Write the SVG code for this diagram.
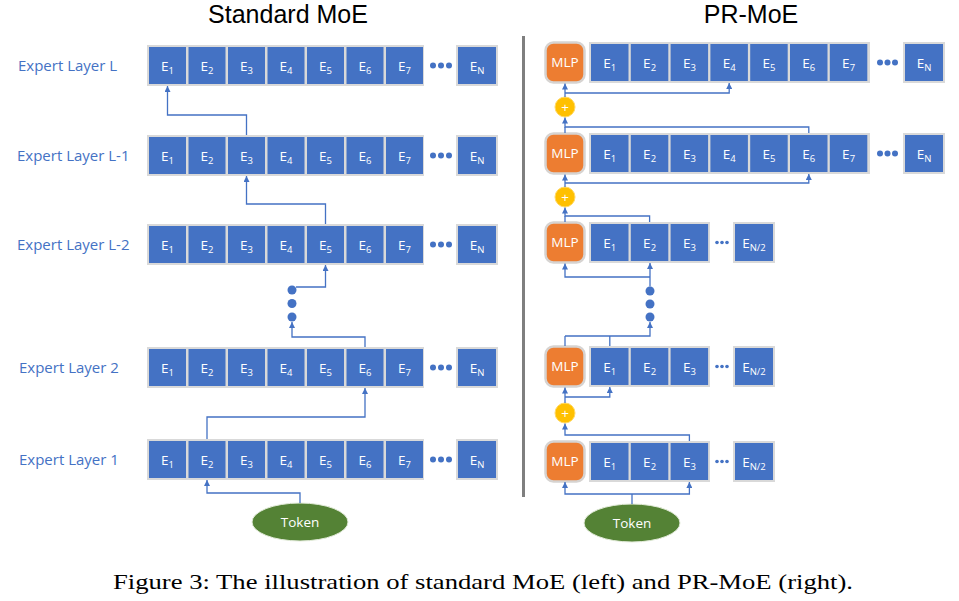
<svg xmlns="http://www.w3.org/2000/svg" width="959" height="601" viewBox="0 0 959 601">
<defs>
<style>
.band{fill:#D9D9D9}
.box{fill:#4472C4}
.et{fill:#fff;font-family:"Open Sans","Liberation Sans",sans-serif;font-size:13.5px;text-anchor:middle}
.sub{font-size:9.5px}
.lbl{fill:#4472C4;font-family:"Open Sans","Liberation Sans",sans-serif;font-size:15px}
.title{fill:#000;font-family:"Liberation Sans","Open Sans",sans-serif;font-size:25px;text-anchor:middle}
.dot{fill:#4472C4}
.mlp{fill:#ED7D31;stroke:#D6D3D1;stroke-width:2.5}
.plus{fill:#FFC000;stroke:#FFD966;stroke-width:1}
.tok{fill:#548235;stroke:#E2EBD9;stroke-width:1}
.conn{fill:none;stroke:#4472C4;stroke-width:1.3}
</style>
<marker id="ah" viewBox="0 0 6 6" refX="6" refY="3" markerWidth="6" markerHeight="6" markerUnits="userSpaceOnUse" orient="auto">
<path d="M0,0 L6,3 L0,6 z" fill="#4472C4"/>
</marker>
</defs>
<rect width="959" height="601" fill="#fff"/>

<!-- titles -->
<text class="title" x="288" y="23">Standard MoE</text>
<text class="title" x="751" y="23">PR-MoE</text>
<rect x="522" y="36" width="3" height="461" fill="#7F7F7F"/>

<!-- ========== Standard MoE ========== -->
<g id="std-layer-L">
<text class="lbl" x="18" y="71">Expert Layer L</text>
<rect class="band" x="147" y="45" width="277" height="41"/>
<rect class="box" x="149" y="47" width="37" height="37"/><text class="et" x="167.5" y="70.5">E<tspan class="sub" dy="3">1</tspan></text>
<rect class="box" x="188.5" y="47" width="37" height="37"/><text class="et" x="207" y="70.5">E<tspan class="sub" dy="3">2</tspan></text>
<rect class="box" x="228" y="47" width="37" height="37"/><text class="et" x="246.5" y="70.5">E<tspan class="sub" dy="3">3</tspan></text>
<rect class="box" x="267.5" y="47" width="37" height="37"/><text class="et" x="286" y="70.5">E<tspan class="sub" dy="3">4</tspan></text>
<rect class="box" x="307" y="47" width="37" height="37"/><text class="et" x="325.5" y="70.5">E<tspan class="sub" dy="3">5</tspan></text>
<rect class="box" x="346.5" y="47" width="37" height="37"/><text class="et" x="365" y="70.5">E<tspan class="sub" dy="3">6</tspan></text>
<rect class="box" x="386" y="47" width="37" height="37"/><text class="et" x="404.5" y="70.5">E<tspan class="sub" dy="3">7</tspan></text>
<circle class="dot" cx="433" cy="65.5" r="3"/><circle class="dot" cx="441" cy="65.5" r="3"/><circle class="dot" cx="449" cy="65.5" r="3"/>
<rect class="band" x="456" y="45" width="42" height="41"/>
<rect class="box" x="458" y="47" width="38" height="37"/><text class="et" x="477" y="70.5">E<tspan class="sub" dy="3">N</tspan></text>
</g>

<g id="std-layer-L-1">
<text class="lbl" x="17" y="161">Expert Layer L-1</text>
<rect class="band" x="147" y="135" width="277" height="41"/>
<rect class="box" x="149" y="137" width="37" height="37"/><text class="et" x="167.5" y="160.5">E<tspan class="sub" dy="3">1</tspan></text>
<rect class="box" x="188.5" y="137" width="37" height="37"/><text class="et" x="207" y="160.5">E<tspan class="sub" dy="3">2</tspan></text>
<rect class="box" x="228" y="137" width="37" height="37"/><text class="et" x="246.5" y="160.5">E<tspan class="sub" dy="3">3</tspan></text>
<rect class="box" x="267.5" y="137" width="37" height="37"/><text class="et" x="286" y="160.5">E<tspan class="sub" dy="3">4</tspan></text>
<rect class="box" x="307" y="137" width="37" height="37"/><text class="et" x="325.5" y="160.5">E<tspan class="sub" dy="3">5</tspan></text>
<rect class="box" x="346.5" y="137" width="37" height="37"/><text class="et" x="365" y="160.5">E<tspan class="sub" dy="3">6</tspan></text>
<rect class="box" x="386" y="137" width="37" height="37"/><text class="et" x="404.5" y="160.5">E<tspan class="sub" dy="3">7</tspan></text>
<circle class="dot" cx="433" cy="155.5" r="3"/><circle class="dot" cx="441" cy="155.5" r="3"/><circle class="dot" cx="449" cy="155.5" r="3"/>
<rect class="band" x="456" y="135" width="42" height="41"/>
<rect class="box" x="458" y="137" width="38" height="37"/><text class="et" x="477" y="160.5">E<tspan class="sub" dy="3">N</tspan></text>
</g>

<g id="std-layer-L-2">
<text class="lbl" x="17" y="250">Expert Layer L-2</text>
<rect class="band" x="147" y="224" width="277" height="41"/>
<rect class="box" x="149" y="226" width="37" height="37"/><text class="et" x="167.5" y="249.5">E<tspan class="sub" dy="3">1</tspan></text>
<rect class="box" x="188.5" y="226" width="37" height="37"/><text class="et" x="207" y="249.5">E<tspan class="sub" dy="3">2</tspan></text>
<rect class="box" x="228" y="226" width="37" height="37"/><text class="et" x="246.5" y="249.5">E<tspan class="sub" dy="3">3</tspan></text>
<rect class="box" x="267.5" y="226" width="37" height="37"/><text class="et" x="286" y="249.5">E<tspan class="sub" dy="3">4</tspan></text>
<rect class="box" x="307" y="226" width="37" height="37"/><text class="et" x="325.5" y="249.5">E<tspan class="sub" dy="3">5</tspan></text>
<rect class="box" x="346.5" y="226" width="37" height="37"/><text class="et" x="365" y="249.5">E<tspan class="sub" dy="3">6</tspan></text>
<rect class="box" x="386" y="226" width="37" height="37"/><text class="et" x="404.5" y="249.5">E<tspan class="sub" dy="3">7</tspan></text>
<circle class="dot" cx="433" cy="244.5" r="3"/><circle class="dot" cx="441" cy="244.5" r="3"/><circle class="dot" cx="449" cy="244.5" r="3"/>
<rect class="band" x="456" y="224" width="42" height="41"/>
<rect class="box" x="458" y="226" width="38" height="37"/><text class="et" x="477" y="249.5">E<tspan class="sub" dy="3">N</tspan></text>
</g>

<g id="std-layer-2">
<text class="lbl" x="19" y="373">Expert Layer 2</text>
<rect class="band" x="147" y="347" width="277" height="41"/>
<rect class="box" x="149" y="349" width="37" height="37"/><text class="et" x="167.5" y="372.5">E<tspan class="sub" dy="3">1</tspan></text>
<rect class="box" x="188.5" y="349" width="37" height="37"/><text class="et" x="207" y="372.5">E<tspan class="sub" dy="3">2</tspan></text>
<rect class="box" x="228" y="349" width="37" height="37"/><text class="et" x="246.5" y="372.5">E<tspan class="sub" dy="3">3</tspan></text>
<rect class="box" x="267.5" y="349" width="37" height="37"/><text class="et" x="286" y="372.5">E<tspan class="sub" dy="3">4</tspan></text>
<rect class="box" x="307" y="349" width="37" height="37"/><text class="et" x="325.5" y="372.5">E<tspan class="sub" dy="3">5</tspan></text>
<rect class="box" x="346.5" y="349" width="37" height="37"/><text class="et" x="365" y="372.5">E<tspan class="sub" dy="3">6</tspan></text>
<rect class="box" x="386" y="349" width="37" height="37"/><text class="et" x="404.5" y="372.5">E<tspan class="sub" dy="3">7</tspan></text>
<circle class="dot" cx="433" cy="367.5" r="3"/><circle class="dot" cx="441" cy="367.5" r="3"/><circle class="dot" cx="449" cy="367.5" r="3"/>
<rect class="band" x="456" y="347" width="42" height="41"/>
<rect class="box" x="458" y="349" width="38" height="37"/><text class="et" x="477" y="372.5">E<tspan class="sub" dy="3">N</tspan></text>
</g>

<g id="std-layer-1">
<text class="lbl" x="19" y="465">Expert Layer 1</text>
<rect class="band" x="147" y="439" width="277" height="41"/>
<rect class="box" x="149" y="441" width="37" height="37"/><text class="et" x="167.5" y="464.5">E<tspan class="sub" dy="3">1</tspan></text>
<rect class="box" x="188.5" y="441" width="37" height="37"/><text class="et" x="207" y="464.5">E<tspan class="sub" dy="3">2</tspan></text>
<rect class="box" x="228" y="441" width="37" height="37"/><text class="et" x="246.5" y="464.5">E<tspan class="sub" dy="3">3</tspan></text>
<rect class="box" x="267.5" y="441" width="37" height="37"/><text class="et" x="286" y="464.5">E<tspan class="sub" dy="3">4</tspan></text>
<rect class="box" x="307" y="441" width="37" height="37"/><text class="et" x="325.5" y="464.5">E<tspan class="sub" dy="3">5</tspan></text>
<rect class="box" x="346.5" y="441" width="37" height="37"/><text class="et" x="365" y="464.5">E<tspan class="sub" dy="3">6</tspan></text>
<rect class="box" x="386" y="441" width="37" height="37"/><text class="et" x="404.5" y="464.5">E<tspan class="sub" dy="3">7</tspan></text>
<circle class="dot" cx="433" cy="459.5" r="3"/><circle class="dot" cx="441" cy="459.5" r="3"/><circle class="dot" cx="449" cy="459.5" r="3"/>
<rect class="band" x="456" y="439" width="42" height="41"/>
<rect class="box" x="458" y="441" width="38" height="37"/><text class="et" x="477" y="464.5">E<tspan class="sub" dy="3">N</tspan></text>
</g>

<g id="std-token">
<ellipse class="tok" cx="300" cy="522" rx="48" ry="19"/>
<text class="et" x="300" y="527" font-size="14">Token</text>
</g>

<g id="std-ellipsis">
<circle class="dot" cx="292" cy="290" r="4.5"/><circle class="dot" cx="292" cy="303.5" r="4.5"/><circle class="dot" cx="292" cy="317" r="4.5"/>
</g>

<!-- ========== PR-MoE ========== -->
<g id="pr-layer-L">
<rect class="mlp" x="545.5" y="42.5" width="39" height="40" rx="8"/><text class="et" x="565" y="67">MLP</text>
<rect class="band" x="589" y="42" width="281" height="41"/>
<rect class="box" x="591" y="44" width="37.5" height="37"/><text class="et" x="609.8" y="67.5">E<tspan class="sub" dy="3">1</tspan></text>
<rect class="box" x="630.8" y="44" width="37.5" height="37"/><text class="et" x="649.6" y="67.5">E<tspan class="sub" dy="3">2</tspan></text>
<rect class="box" x="670.6" y="44" width="37.5" height="37"/><text class="et" x="689.4" y="67.5">E<tspan class="sub" dy="3">3</tspan></text>
<rect class="box" x="710.4" y="44" width="37.5" height="37"/><text class="et" x="729.2" y="67.5">E<tspan class="sub" dy="3">4</tspan></text>
<rect class="box" x="750.2" y="44" width="37.5" height="37"/><text class="et" x="769" y="67.5">E<tspan class="sub" dy="3">5</tspan></text>
<rect class="box" x="790" y="44" width="37.5" height="37"/><text class="et" x="808.8" y="67.5">E<tspan class="sub" dy="3">6</tspan></text>
<rect class="box" x="829.8" y="44" width="37.5" height="37"/><text class="et" x="848.6" y="67.5">E<tspan class="sub" dy="3">7</tspan></text>
<circle class="dot" cx="880" cy="62.5" r="3"/><circle class="dot" cx="887.5" cy="62.5" r="3"/><circle class="dot" cx="895" cy="62.5" r="3"/>
<rect class="band" x="903" y="42" width="42" height="41"/>
<rect class="box" x="905" y="44" width="38" height="37"/><text class="et" x="924" y="67.5">E<tspan class="sub" dy="3">N</tspan></text>
</g>

<g id="pr-layer-L-1">
<rect class="mlp" x="545.5" y="133.5" width="39" height="40" rx="8"/><text class="et" x="565" y="158">MLP</text>
<rect class="band" x="589" y="133" width="281" height="41"/>
<rect class="box" x="591" y="135" width="37.5" height="37"/><text class="et" x="609.8" y="158.5">E<tspan class="sub" dy="3">1</tspan></text>
<rect class="box" x="630.8" y="135" width="37.5" height="37"/><text class="et" x="649.6" y="158.5">E<tspan class="sub" dy="3">2</tspan></text>
<rect class="box" x="670.6" y="135" width="37.5" height="37"/><text class="et" x="689.4" y="158.5">E<tspan class="sub" dy="3">3</tspan></text>
<rect class="box" x="710.4" y="135" width="37.5" height="37"/><text class="et" x="729.2" y="158.5">E<tspan class="sub" dy="3">4</tspan></text>
<rect class="box" x="750.2" y="135" width="37.5" height="37"/><text class="et" x="769" y="158.5">E<tspan class="sub" dy="3">5</tspan></text>
<rect class="box" x="790" y="135" width="37.5" height="37"/><text class="et" x="808.8" y="158.5">E<tspan class="sub" dy="3">6</tspan></text>
<rect class="box" x="829.8" y="135" width="37.5" height="37"/><text class="et" x="848.6" y="158.5">E<tspan class="sub" dy="3">7</tspan></text>
<circle class="dot" cx="880" cy="153.5" r="3"/><circle class="dot" cx="887.5" cy="153.5" r="3"/><circle class="dot" cx="895" cy="153.5" r="3"/>
<rect class="band" x="903" y="133" width="42" height="41"/>
<rect class="box" x="905" y="135" width="38" height="37"/><text class="et" x="924" y="158.5">E<tspan class="sub" dy="3">N</tspan></text>
</g>

<g id="pr-layer-L-2">
<rect class="mlp" x="545.5" y="222.5" width="39" height="40" rx="8"/><text class="et" x="565" y="247">MLP</text>
<rect class="band" x="589" y="222" width="121" height="41"/>
<rect class="box" x="591" y="224" width="37.5" height="37"/><text class="et" x="609.8" y="247.5">E<tspan class="sub" dy="3">1</tspan></text>
<rect class="box" x="630.8" y="224" width="37.5" height="37"/><text class="et" x="649.6" y="247.5">E<tspan class="sub" dy="3">2</tspan></text>
<rect class="box" x="670.6" y="224" width="37.5" height="37"/><text class="et" x="689.4" y="247.5">E<tspan class="sub" dy="3">3</tspan></text>
<circle class="dot" cx="717" cy="242.5" r="1.8"/><circle class="dot" cx="722" cy="242.5" r="1.8"/><circle class="dot" cx="727" cy="242.5" r="1.8"/>
<rect class="band" x="733" y="222" width="42" height="41"/>
<rect class="box" x="735" y="224" width="38" height="37"/><text class="et" x="754" y="247.5">E<tspan class="sub" dy="3">N/2</tspan></text>
</g>

<g id="pr-layer-2">
<rect class="mlp" x="545.5" y="346.5" width="39" height="40" rx="8"/><text class="et" x="565" y="371">MLP</text>
<rect class="band" x="589" y="346" width="121" height="41"/>
<rect class="box" x="591" y="348" width="37.5" height="37"/><text class="et" x="609.8" y="371.5">E<tspan class="sub" dy="3">1</tspan></text>
<rect class="box" x="630.8" y="348" width="37.5" height="37"/><text class="et" x="649.6" y="371.5">E<tspan class="sub" dy="3">2</tspan></text>
<rect class="box" x="670.6" y="348" width="37.5" height="37"/><text class="et" x="689.4" y="371.5">E<tspan class="sub" dy="3">3</tspan></text>
<circle class="dot" cx="717" cy="366.5" r="1.8"/><circle class="dot" cx="722" cy="366.5" r="1.8"/><circle class="dot" cx="727" cy="366.5" r="1.8"/>
<rect class="band" x="733" y="346" width="42" height="41"/>
<rect class="box" x="735" y="348" width="38" height="37"/><text class="et" x="754" y="371.5">E<tspan class="sub" dy="3">N/2</tspan></text>
</g>

<g id="pr-layer-1">
<rect class="mlp" x="545.5" y="441.5" width="39" height="40" rx="8"/><text class="et" x="565" y="466">MLP</text>
<rect class="band" x="589" y="441" width="121" height="41"/>
<rect class="box" x="591" y="443" width="37.5" height="37"/><text class="et" x="609.8" y="466.5">E<tspan class="sub" dy="3">1</tspan></text>
<rect class="box" x="630.8" y="443" width="37.5" height="37"/><text class="et" x="649.6" y="466.5">E<tspan class="sub" dy="3">2</tspan></text>
<rect class="box" x="670.6" y="443" width="37.5" height="37"/><text class="et" x="689.4" y="466.5">E<tspan class="sub" dy="3">3</tspan></text>
<circle class="dot" cx="717" cy="461.5" r="1.8"/><circle class="dot" cx="722" cy="461.5" r="1.8"/><circle class="dot" cx="727" cy="461.5" r="1.8"/>
<rect class="band" x="733" y="441" width="42" height="41"/>
<rect class="box" x="735" y="443" width="38" height="37"/><text class="et" x="754" y="466.5">E<tspan class="sub" dy="3">N/2</tspan></text>
</g>

<g id="pr-plus-top"><circle class="plus" cx="565" cy="107" r="10"/><text class="et" x="565" y="111.5" font-size="12">+</text></g>
<g id="pr-plus-mid"><circle class="plus" cx="565" cy="197" r="10"/><text class="et" x="565" y="201.5" font-size="12">+</text></g>
<g id="pr-plus-bottom"><circle class="plus" cx="565" cy="413" r="10"/><text class="et" x="565" y="417.5" font-size="12">+</text></g>

<g id="pr-ellipsis">
<circle class="dot" cx="650" cy="291" r="4.5"/><circle class="dot" cx="650" cy="304" r="4.5"/><circle class="dot" cx="650" cy="317" r="4.5"/>
</g>

<g id="pr-token">
<ellipse class="tok" cx="632" cy="523" rx="48" ry="19"/>
<text class="et" x="632" y="528" font-size="14">Token</text>
</g>

<!-- connectors -->
<g id="connectors" class="conn">
<path d="M300,503 V493 H207 V480" marker-end="url(#ah)"/>
<path d="M207,439 V417 H365 V388" marker-end="url(#ah)"/>
<path d="M365,347 V337 H292 V322" marker-end="url(#ah)"/>
<path d="M296,287 H325.5 V265" marker-end="url(#ah)"/>
<path d="M325.5,224 V204 H246.5 V176" marker-end="url(#ah)"/>
<path d="M246.5,135 V115 H167.5 V86" marker-end="url(#ah)"/>

<path d="M632,504 V494"/>
<path d="M632,494 H565 V482" marker-end="url(#ah)"/>
<path d="M632,494 H689.4 V482" marker-end="url(#ah)"/>
<path d="M689.4,441 V435 H565 V423.5" marker-end="url(#ah)"/>
<path d="M565,403 V387.5" marker-end="url(#ah)"/>
<path d="M565,397 H609.8 V387" marker-end="url(#ah)"/>
<path d="M565,346 V336"/>
<path d="M609.8,346 V336"/>
<path d="M565,336 H650 V322" marker-end="url(#ah)"/>
<path d="M650,286.5 V263" marker-end="url(#ah)"/>
<path d="M650,277 H565 V263.5" marker-end="url(#ah)"/>
<path d="M565,222 V216"/>
<path d="M649.6,222 V216 H565 V207.5" marker-end="url(#ah)"/>
<path d="M565,187 V174.5" marker-end="url(#ah)"/>
<path d="M565,183 H808.8 V174" marker-end="url(#ah)"/>
<path d="M565,133 V127"/>
<path d="M808.8,133 V127 H565 V117.5" marker-end="url(#ah)"/>
<path d="M565,97 V83.5" marker-end="url(#ah)"/>
<path d="M565,93 H729.2 V83" marker-end="url(#ah)"/>
</g>

<text x="483" y="589" font-family="'Liberation Serif',serif" font-size="22" text-anchor="middle" textLength="740" lengthAdjust="spacingAndGlyphs" fill="#000">Figure 3: The illustration of standard MoE (left) and PR-MoE (right).</text>
</svg>
